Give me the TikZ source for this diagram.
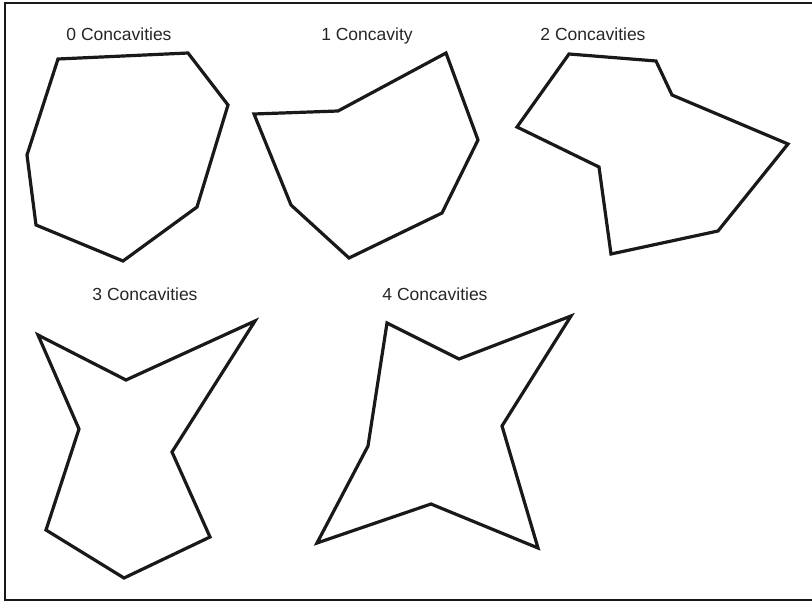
\documentclass[tikz,border=0pt]{standalone}
\usepackage{fontspec}
\setmainfont{Liberation Sans}
\begin{document}
\begin{tikzpicture}[x=1pt,y=-1pt,
  poly/.style={line width=3.2pt,line join=miter,black!90},
  frame/.style={line width=2.4pt,black!90},
  lbl/.style={font=\fontsize{17.5}{20}\selectfont,text=black!85,inner sep=0pt,anchor=base}]
\useasboundingbox (0,0) rectangle (812,602);
\coordinate (f1) at (812,3);
\coordinate (f2) at (5,3);
\coordinate (f3) at (5,600);
\coordinate (f4) at (812,600);
\draw[frame] (f1) -- (f2) -- (f3) -- (f4);

\node[lbl] (l0) at (119,40.5) {0 Concavities};
\node[lbl] (l1) at (367,40.5) {1 Concavity};
\node[lbl] (l2) at (593,40.5) {2 Concavities};
\node[lbl] (l3) at (145,300) {3 Concavities};
\node[lbl] (l4) at (435,300) {4 Concavities};

\draw[poly] (58,59) -- (188,53) -- (228,105) -- (197,207) -- (123,261) -- (36,225) -- (27,155) -- cycle;
\draw[poly] (254,114) -- (338,111) -- (446,53) -- (478,140) -- (442,213) -- (349,258) -- (291,205) -- cycle;
\draw[poly] (569,54) -- (656,61) -- (672,95) -- (788,144) -- (718,231) -- (611,254) -- (599,167) -- (517,127) -- cycle;
\draw[poly] (38,335) -- (126,380) -- (255,321) -- (172,452) -- (210,537) -- (124,578) -- (46,530) -- (79,429) -- cycle;
\draw[poly] (387,323) -- (459,359) -- (571,316) -- (502,426) -- (538,548) -- (431,504) -- (317,543) -- (368,446) -- cycle;
\end{tikzpicture}
\end{document}
